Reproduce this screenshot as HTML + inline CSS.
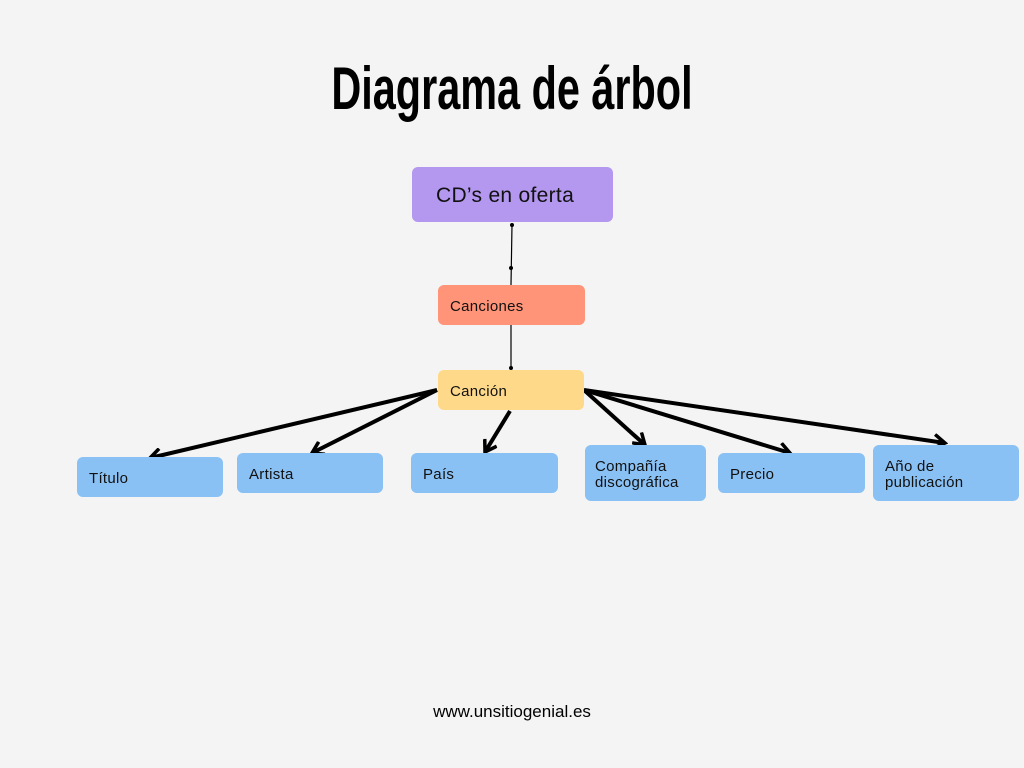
<!DOCTYPE html>
<html><head><style>
body{margin:0;width:1024px;height:768px;background:#f4f4f4;position:relative;font-family:"Liberation Sans","DejaVu Sans",sans-serif;overflow:hidden}
.t{position:absolute;left:0;width:1024px;top:54px;text-align:center;font-family:"Liberation Sans Narrow","Liberation Sans",sans-serif;font-weight:bold;font-size:60px;color:#000;transform:scaleX(0.69);}
.b{position:absolute;border-radius:6px;font-size:15px;color:#111;box-sizing:border-box;padding-left:12px;padding-top:3px;display:flex;align-items:center;line-height:16px;letter-spacing:0.3px}
.bl{background:#8ac1f4}
</style></head><body>
<div class="t">Diagrama de árbol</div>
<svg width="1024" height="768" style="position:absolute;left:0;top:0">
<defs><marker id="a" markerWidth="16" markerHeight="16" refX="13" refY="8" orient="auto" markerUnits="userSpaceOnUse"><path d="M2,1 L13,8 L2,15" fill="none" stroke="#000" stroke-width="3.5"/></marker></defs>
<line x1="512" y1="225" x2="511" y2="285" stroke="#000" stroke-width="1.2"/>
<circle cx="512" cy="225" r="2"/><circle cx="511" cy="268" r="2"/>
<line x1="511" y1="325" x2="511" y2="368" stroke="#000" stroke-width="1.2"/>
<circle cx="511" cy="368" r="2"/>
<g stroke="#000" stroke-width="4" fill="none" marker-end="url(#a)">
<line x1="437" y1="390" x2="150" y2="458"/>
<line x1="437" y1="390" x2="312" y2="453"/>
<line x1="510" y1="411" x2="485" y2="452"/>
<line x1="584" y1="390" x2="645" y2="445"/>
<line x1="584" y1="390" x2="790" y2="453"/>
<line x1="584" y1="390" x2="945" y2="443"/>
</g>
</svg>
<div class="b" style="left:412px;top:167px;width:201px;height:55px;background:#b497ef;font-size:21px;padding-left:24px">CD’s en oferta</div>
<div class="b" style="left:438px;top:285px;width:147px;height:40px;background:#ff9478">Canciones</div>
<div class="b" style="left:438px;top:370px;width:146px;height:40px;background:#ffd98a">Canción</div>
<div class="b bl" style="left:77px;top:457px;width:146px;height:40px">Título</div>
<div class="b bl" style="left:237px;top:453px;width:146px;height:40px">Artista</div>
<div class="b bl" style="left:411px;top:453px;width:147px;height:40px">País</div>
<div class="b bl" style="left:585px;top:445px;width:121px;height:56px;padding-left:10px">Compañía<br>discográfica</div>
<div class="b bl" style="left:718px;top:453px;width:147px;height:40px">Precio</div>
<div class="b bl" style="left:873px;top:445px;width:146px;height:56px">Año de<br>publicación</div>
<div style="position:absolute;left:0;width:1024px;top:702px;text-align:center;font-size:17px;color:#000">www.unsitiogenial.es</div>
</body></html>
